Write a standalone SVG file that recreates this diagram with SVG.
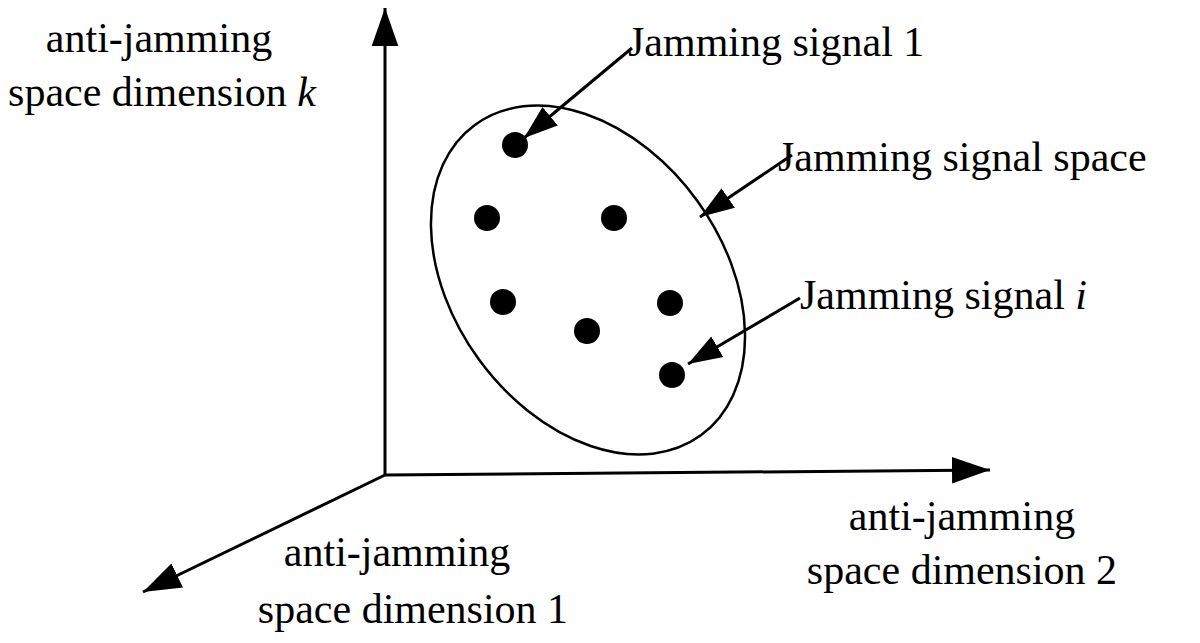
<svg xmlns="http://www.w3.org/2000/svg" width="1200" height="643" viewBox="0 0 1200 643">
<defs>
<marker id="big" viewBox="0 0 10 10" refX="10" refY="5" markerWidth="38" markerHeight="38" markerUnits="userSpaceOnUse" orient="auto"><path d="M0,1.5L10,5L0,8.5z" fill="#000"/></marker>
<marker id="sm" viewBox="0 0 10 10" refX="10" refY="5" markerWidth="34" markerHeight="34" markerUnits="userSpaceOnUse" orient="auto"><path d="M0,1.5L10,5L0,8.5z" fill="#000"/></marker>
<style>text{font-family:"Liberation Serif",serif;font-size:42px;fill:#000}.d{fill:#000}</style>
</defs>
<rect width="1200" height="643" fill="#fff"/>
<g id="connectors" stroke="#000" stroke-width="3" fill="none">
<line x1="385" y1="475" x2="385" y2="8" marker-end="url(#big)"/>
<line x1="385" y1="475" x2="990" y2="470" marker-end="url(#big)"/>
<line x1="385" y1="475" x2="143" y2="592" marker-end="url(#big)"/>
<line x1="632" y1="48" x2="524" y2="138" marker-end="url(#sm)"/>
<line x1="792" y1="155" x2="700" y2="217" marker-end="url(#sm)"/>
<line x1="800" y1="298" x2="688" y2="364" marker-end="url(#sm)"/>
</g>
<g id="space"><ellipse cx="588" cy="280" rx="135" ry="192" transform="rotate(-36 588 280)" fill="none" stroke="#000" stroke-width="2.5"/></g>
<g id="signals">
<circle class="d" cx="515" cy="145" r="13"/><circle class="d" cx="487" cy="218" r="13"/>
<circle class="d" cx="614" cy="218" r="13"/><circle class="d" cx="503" cy="302" r="13"/>
<circle class="d" cx="670" cy="303" r="13"/><circle class="d" cx="587" cy="331" r="13"/>
<circle class="d" cx="672" cy="375" r="13"/>
</g>
<g id="labels">
<text x="159" y="52" text-anchor="middle">anti-jamming</text>
<text x="162" y="106" text-anchor="middle">space dimension <tspan font-style="italic">k</tspan></text>
<text x="628" y="56">Jamming signal 1</text>
<text x="778" y="171">Jamming signal space</text>
<text x="800" y="309">Jamming signal <tspan font-style="italic">i</tspan></text>
<text x="962" y="530" text-anchor="middle">anti-jamming</text>
<text x="962" y="584" text-anchor="middle">space dimension 2</text>
<text x="397" y="566" text-anchor="middle">anti-jamming</text>
<text x="413" y="623" text-anchor="middle">space dimension 1</text>
</g>
</svg>
